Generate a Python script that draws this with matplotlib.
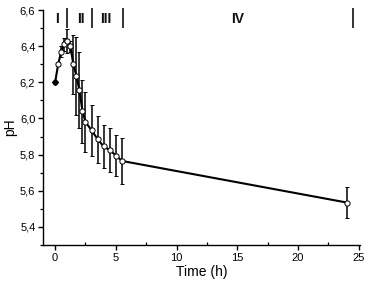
import matplotlib
matplotlib.use("Agg")
from matplotlib import pyplot as plt
from matplotlib.ticker import MultipleLocator, FuncFormatter

# pH over time, mean +/- error
time_h = [0, 0.25, 0.5, 0.75, 1.0, 1.25, 1.5, 1.75, 2.0, 2.25, 2.5,
          3.0, 3.5, 4.0, 4.5, 5.0, 5.5, 24]
ph = [6.20, 6.30, 6.37, 6.41, 6.43, 6.40, 6.30, 6.235, 6.155, 6.04, 5.98,
      5.935, 5.885, 5.845, 5.825, 5.795, 5.765, 5.535]
ph_err = [0.01, 0.01, 0.03, 0.035, 0.066, 0.03, 0.163, 0.218, 0.21, 0.175, 0.165,
          0.14, 0.13, 0.12, 0.12, 0.115, 0.125, 0.088]

# phase labels and separators along the top
phase_labels = ["I", "II", "III", "IV"]
phase_label_x = [0.12, 2.1, 4.2, 15.0]
phase_sep_x = [1.0, 3.05, 5.55, 24.5]

plt.rcParams['font.family'] = ['Liberation Sans', 'DejaVu Sans']

fig = plt.figure(figsize=(3.69, 2.86), dpi=100)
ax = fig.add_axes([0.1165, 0.1434, 0.859, 0.8216])

ax.errorbar(time_h[1:], ph[1:], yerr=ph_err[1:], fmt='-o', color='black',
            lw=1.5, elinewidth=1.1, capsize=1.6, capthick=1.1,
            markersize=3.8, markerfacecolor='white', markeredgecolor='black',
            markeredgewidth=0.7, zorder=3)
ax.plot(time_h[:2], ph[:2], '-', color='black', lw=1.5, zorder=3)
ax.errorbar(time_h[:1], ph[:1], yerr=ph_err[:1], fmt='D', color='black',
            markersize=3, capsize=1.6, zorder=4)

for lab, xl in zip(phase_labels, phase_label_x):
    ax.text(xl, 6.553, lab, ha='center', va='center', fontsize=10,
            fontweight='bold', color='#111111')
ax.vlines(phase_sep_x, 6.50, 6.61, colors='#333333', lw=1.4, clip_on=False)

ax.set_xlim(-1, 25.1)
ax.set_ylim(5.3, 6.6)
ax.xaxis.set_major_locator(MultipleLocator(5))
ax.xaxis.set_minor_locator(MultipleLocator(2.5))
ax.yaxis.set_major_locator(MultipleLocator(0.2))
ax.yaxis.set_minor_locator(MultipleLocator(0.1))
ax.yaxis.set_major_formatter(FuncFormatter(lambda v, p: f"{v:.1f}".replace('.', ',')))

for side in ['top', 'right']:
    ax.spines[side].set_visible(False)
for side in ['left', 'bottom']:
    ax.spines[side].set_linewidth(1.0)

ax.tick_params(which='major', direction='out', length=3.5, width=1.0, labelsize=8, pad=2)
ax.tick_params(axis='y', which='minor', direction='out', length=2, width=0.9)
ax.tick_params(axis='x', which='minor', direction='in', length=2, width=0.9)

ax.set_xlabel("Time (h)", fontsize=10, labelpad=2)
ax.set_ylabel("pH", fontsize=10, labelpad=2)

fig.savefig("out.png", dpi=100)
